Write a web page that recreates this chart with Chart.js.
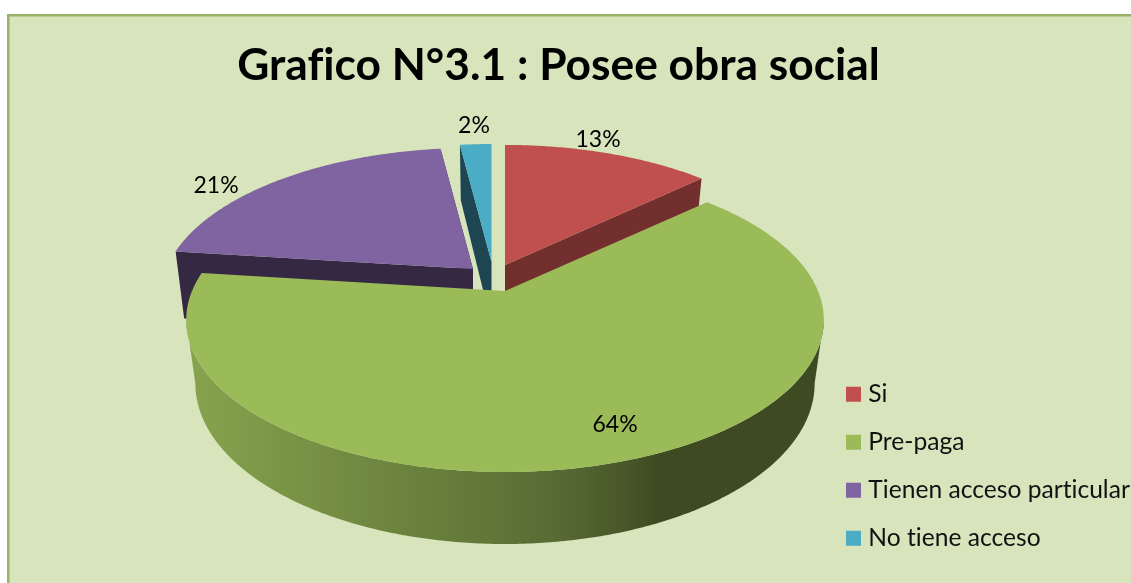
<!DOCTYPE html>
<html><head><meta charset="utf-8">
<style>html,body{margin:0;padding:0;background:#fff}canvas{display:block}</style>
<script src="https://cdn.jsdelivr.net/npm/chart.js@4/dist/chart.umd.js"></script>
</head><body>
<div style="width:1131px;height:583px;position:relative"><canvas id="c"></canvas></div>
<script>
const categories = ["Si", "Pre-paga", "Tienen acceso particular", "No tiene acceso"];
const shares = [13, 64, 21, 2];
const faceColors = ["#c0504d", "#9bbb59", "#8064a2", "#4bacc6"];
const wallColors = ["#722f2e", "#3e4c22", "#352842", "#1e4552"];
const titleText = "Grafico N°3.1 : Posee obra social";

// view of the tilted pie: where each slice's angle lands on the page
const CX = 505, TOP_Y = 291, BOTTOM_Y = 353, TILT = 0.19;
const TOP_R = 313, TOP_S = 146.6, BOTTOM_R = 304, BOTTOM_S = 154.7;
// dx, dy, radius factor, extra wall depth
const sliceShift = [[0, -26, 0.97, 0], [0, 0, 1, 0], [-32, -22, 0.98, 6], [-13.5, -29, 0.95, 0]];
const labelAnchors = [[598, 140], [615, 425], [216, 186], [474, 126]];

function project(a, r, plane, s) {
  const u = Math.cos(a) * r * s[2], v = Math.sin(a) * r * s[2], w = 1 - TILT * v;
  const R = plane ? BOTTOM_R : TOP_R, S = plane ? BOTTOM_S : TOP_S, Y = plane ? BOTTOM_Y + s[3] : TOP_Y;
  return [CX + R * u / w + s[0], Y + S * v / w + s[1]];
}
function rim(a0, a1, plane, s) {
  const out = [], n = Math.max(2, Math.ceil((a1 - a0) / 0.01));
  for (let i = 0; i <= n; i++) out.push(project(a0 + (a1 - a0) * i / n, 1, plane, s));
  return out;
}
function fillPoly(ctx, pts, fill) {
  ctx.beginPath();
  pts.forEach((p, i) => i ? ctx.lineTo(p[0], p[1]) : ctx.moveTo(p[0], p[1]));
  ctx.closePath();
  ctx.fillStyle = fill;
  ctx.fill();
}
function drawWalls(ctx, a0, a1, s, fill) {
  const t0 = project(a0, 1, 0, s), t1 = project(a1, 1, 0, s), c = project(0, 0, 0, s);
  const b0 = project(a0, 1, 1, s), b1 = project(a1, 1, 1, s), d = project(0, 0, 1, s);
  fillPoly(ctx, [c, t0, b0, d], fill);
  fillPoly(ctx, [c, t1, b1, d], fill);
}
function drawFace(ctx, a0, a1, s, fill) {
  fillPoly(ctx, [project(0, 0, 0, s)].concat(rim(a0, a1, 0, s)), fill);
}

const pie3d = {
  id: "pie3d",
  beforeDraw(chart) {
    const ctx = chart.ctx;
    ctx.letterSpacing = "0.01px"; // keeps "fi" and "ti" as separate letters
    ctx.save();
    ctx.fillStyle = "#ffffff"; ctx.fillRect(0, 0, chart.width, chart.height);
    ctx.fillStyle = "#d8e4bc"; ctx.fillRect(7, 14, chart.width - 7, chart.height - 14);
    ctx.fillStyle = "#98b268"; ctx.fillRect(7, 14, chart.width - 7, 2.5); ctx.fillRect(7, 14, 2.5, chart.height - 14);
    ctx.restore();
  },
  afterLayout(chart) {
    const lg = chart.legend, p = lg.options.labels.padding;
    lg.left = 851 - p; lg.right = 1131;
    lg.top = 382 - p; lg.bottom = 583;
    const t = chart.titleBlock;
    t.left = -14; t.right = chart.width;
  },
  beforeDatasetDraw(chart, args) {
    const ctx = chart.ctx, arcs = chart.getDatasetMeta(args.index).data;
    const ang = arcs.map(a => a.getProps(["startAngle", "endAngle"], true));
    ctx.save();
    // back slices first; the big slice covers their walls
    [0, 2, 3].forEach(i => {
      drawWalls(ctx, ang[i].startAngle, ang[i].endAngle, sliceShift[i], wallColors[i]);
      drawFace(ctx, ang[i].startAngle, ang[i].endAngle, sliceShift[i], faceColors[i]);
    });
    const g = ctx.createLinearGradient(190, 0, 820, 0);
    g.addColorStop(0, "#87a34e"); g.addColorStop(0.295, "#6f8740"); g.addColorStop(0.502, "#5f7437");
    g.addColorStop(0.6, "#556833"); g.addColorStop(0.71, "#445326"); g.addColorStop(0.746, "#3e4a22"); g.addColorStop(1, "#3e4a22");
    const A = ang[1], s = sliceShift[1];
    // outer wall runs between the two points where the rim turns back
    const turn = Math.asin(TILT);
    const a0 = Math.max(A.startAngle, turn), a1 = Math.min(A.endAngle, Math.PI - turn);
    fillPoly(ctx, rim(a0, a1, 0, s).concat(rim(a0, a1, 1, s).reverse()), g);
    drawFace(ctx, A.startAngle, A.endAngle, s, faceColors[1]);
    ctx.restore();
    return false;
  },
  afterDatasetsDraw(chart) {
    const ctx = chart.ctx;
    ctx.save();
    ctx.fillStyle = "#000";
    ctx.font = "23px Lato";
    ctx.textAlign = "center"; ctx.textBaseline = "middle";
    shares.forEach((v, i) => ctx.fillText(v + "%", labelAnchors[i][0], labelAnchors[i][1]));
    ctx.restore();
  }
};

new Chart(document.getElementById("c"), {
  type: "pie",
  data: { labels: categories, datasets: [{ data: shares, backgroundColor: faceColors, borderWidth: 0 }] },
  plugins: [pie3d],
  options: {
    responsive: true, maintainAspectRatio: false, animation: false,
    layout: { padding: 0 },
    plugins: {
      tooltip: { enabled: false },
      title: { display: true, text: titleText, color: "#000", font: { family: "Lato", size: 44.3, weight: "bold" }, padding: { top: 39, bottom: 10 } },
      legend: {
        position: "right", align: "start",
        labels: { color: "#111", font: { family: "Lato", size: 24.6 }, usePointStyle: true, pointStyle: "rect", boxWidth: 5, boxHeight: 15, padding: 23.4 }
      }
    }
  }
});
</script>
</body></html>
